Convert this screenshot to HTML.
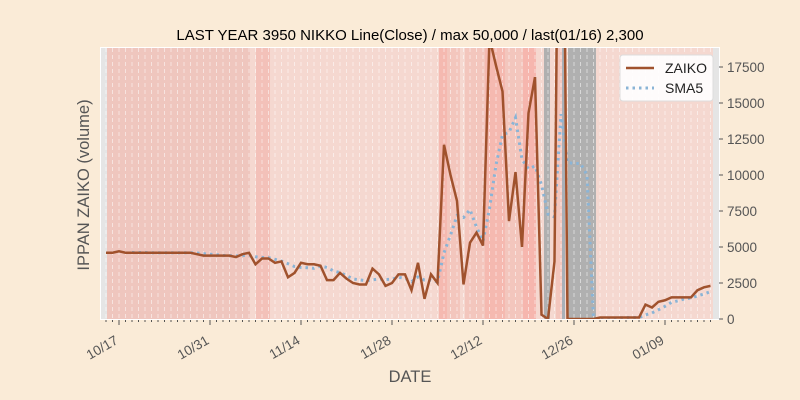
<!DOCTYPE html>
<html><head><meta charset="utf-8"><style>
body{margin:0;background:#faebd7;}
svg{display:block;font-family:"Liberation Sans","DejaVu Sans",sans-serif;}
</style></head><body>
<svg id="chart" width="800" height="400">
<rect width="800" height="400" fill="#faebd7"/>
<text x="410" y="40" font-size="15" text-anchor="middle" fill="#000">LAST YEAR 3950 NIKKO Line(Close) / max 50,000 / last(01/16) 2,300</text>
<g id="bands"></g><g id="grid"></g><g id="series"></g><g id="axes"></g>
<text x="89" y="185" font-size="16.5" fill="#555" text-anchor="middle" transform="rotate(-90 89 185)">IPPAN ZAIKO (volume)</text>
<text x="410" y="382" font-size="16.5" fill="#555" text-anchor="middle">DATE</text>
<g>
<rect x="620" y="55" width="93" height="46" rx="3" fill="#fff" fill-opacity="0.9" stroke="#ddd"/>
<line x1="626" y1="68" x2="654" y2="68" stroke="#a0522d" stroke-width="2.5"/>
<text x="665" y="73" font-size="14" fill="#222">ZAIKO</text>
<line x1="626" y1="88" x2="654" y2="88" stroke="#8ab4d6" stroke-width="3" stroke-dasharray="2.5,4"/>
<text x="665" y="93" font-size="14" fill="#222">SMA5</text>
</g>
</svg>
<script>
const zaiko = [4600,4600,4700,4600,4600,4600,4600,4600,4600,4600,4600,4600,4600,4600,4500,4400,4400,4400,4400,4400,4300,4500,4600,3800,4200,4200,3900,4000,2900,3200,3900,3800,3800,3700,2700,2700,3200,2800,2500,2400,2400,3500,3100,2300,2500,3100,3100,2000,3900,1400,3100,2500,12100,10000,8200,2400,5300,6000,5100,19500,17600,15800,6800,10200,5000,14300,16800,300,0,4000,50000,0,0,0,0,0,100,100,100,100,100,100,100,1000,800,1200,1300,1500,1500,1500,1500,2000,2200,2300];
const yTicks = [0,2500,5000,7500,10000,12500,15000,17500];
const xTickLabels = ["10/17","10/31","11/14","11/28","12/12","12/26","01/09"];
const xTickIdx = [2,16,30,44,58,72,86];
const bandStarts = [101,107,250,256,270,439,447,460,465,485,505,523,536,544,550,556,562,565,568,596,713];
const bandColors = ["#e5e5e5","#efc6be","#f5d8d0","#f3c1b9","#f5d8d0","#f5b9b0","#f3c6bd","#f5d8d0","#f3c6bd","#f5b9b0","#f3c6bd","#f6b6ae","#f5d8d0","#b0b0b0","#f5d8d0","#f3c6bd","#a9b0b8","#f5d8d0","#b0b0b0","#f5d8d0","#e5e5e5"];
const L=101,R=719,T=48,B=319;
const xs=i=>106+i*6.5;
const ys=v=>B-v*(252/17500);
const NS="http://www.w3.org/2000/svg";
function mk(tag,attrs,parent){const e=document.createElementNS(NS,tag);for(const k in attrs)e.setAttribute(k,attrs[k]);parent.appendChild(e);return e;}
const bands=document.getElementById('bands'),grid=document.getElementById('grid'),series=document.getElementById('series'),axes=document.getElementById('axes');
mk('rect',{x:L-1,y:T-1,width:R-L+2,height:B-T+2,fill:'#fff'},bands);
for(let i=0;i<bandStarts.length;i++){
  const x0=bandStarts[i],x1=i+1<bandStarts.length?bandStarts[i+1]:R;
  const r=mk('rect',{x:x0,y:T,width:x1-x0,height:B-T,fill:bandColors[i]},bands);
  
  
}
for(let i=0;i<zaiko.length;i++){
  const l=mk('line',{x1:xs(i),x2:xs(i),y1:T,y2:B,stroke:'#fff','stroke-opacity':0.5,'stroke-dasharray':'4,3','stroke-width':1},grid);
  
  
  mk('line',{x1:xs(i),x2:xs(i),y1:B+1,y2:B+3,stroke:'#555'},axes);
}
const cp=mk('clipPath',{id:'clip'},series);mk('rect',{x:L,y:T,width:R-L,height:B-T},cp);
const sma=[];
for(let i=0;i<zaiko.length;i++){if(i<4)continue;let s=0;for(let j=i-4;j<=i;j++)s+=zaiko[j];sma.push([i,s/5]);}
const p2=mk('polyline',{points:sma.map(p=>xs(p[0])+','+ys(p[1])).join(' '),fill:'none',stroke:'#8ab4d6','stroke-width':3,'stroke-dasharray':'2.5,4','clip-path':'url(#clip)'},series);


const p1=mk('polyline',{points:zaiko.map((v,i)=>xs(i)+','+ys(v)).join(' '),fill:'none',stroke:'#a0522d','stroke-width':2.5,'clip-path':'url(#clip)'},series);


yTicks.forEach(v=>{
  mk('line',{x1:R,x2:R+4,y1:ys(v),y2:ys(v),stroke:'#555'},axes);
  const t=mk('text',{x:R+8,y:ys(v)+5,'font-size':13.5,fill:'#555','text-anchor':'start'},axes);
  t.textContent=v;
  
  
});
xTickIdx.forEach((idx,k)=>{
  const x=xs(idx);
  mk('line',{x1:x,x2:x,y1:B+1,y2:B+6,stroke:'#555'},axes);
  const t=mk('text',{x:x,y:B+24,'font-size':13.5,fill:'#555','text-anchor':'end',transform:`rotate(-30 ${x} ${B+24})`},axes);
  t.textContent=xTickLabels[k];
  
  
});
</script>
</body></html>
